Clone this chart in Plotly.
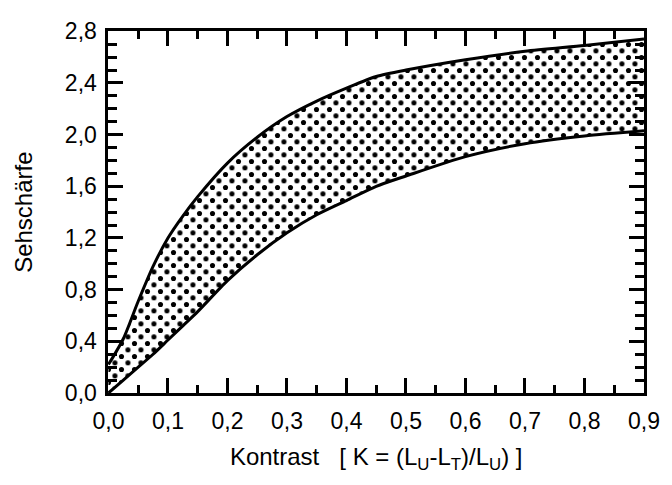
import plotly.graph_objects as go

kontrast = [0, 0.025, 0.05, 0.075, 0.1, 0.125, 0.15, 0.2, 0.25, 0.3, 0.35, 0.4, 0.45, 0.5, 0.6, 0.7, 0.8, 0.9]
upper = [0.22, 0.42, 0.71, 0.98, 1.20, 1.37, 1.52, 1.78, 1.98, 2.14, 2.26, 2.36, 2.45, 2.50, 2.58, 2.645, 2.69, 2.74]
lower = [0.0, 0.10, 0.20, 0.30, 0.41, 0.52, 0.63, 0.87, 1.07, 1.24, 1.38, 1.49, 1.60, 1.68, 1.83, 1.93, 1.99, 2.03]

x_ticks = [0, 0.1, 0.2, 0.3, 0.4, 0.5, 0.6, 0.7, 0.8, 0.9]
y_ticks = [0, 0.4, 0.8, 1.2, 1.6, 2.0, 2.4, 2.8]
x_range = [0, 0.9]
y_range = [0, 2.8]

# figure geometry
W, H = 672, 485
ML, MR, MT, MB = 102, 24, 14, 92
PAT = 13.0          # dot-pattern cell
SHIFT = PAT / 2     # half-cell offset -> staggered (diamond) dot lattice

gw = W - ML - MR
gh = H - MT - MB
dx = SHIFT / gw
dy = SHIFT / gh
vis_w = gw - SHIFT
vis_h = gh - SHIFT
x2_range = [x_range[0] - SHIFT * (x_range[1] - x_range[0]) / vis_w, x_range[1]]
y2_range = [y_range[0], y_range[1] + SHIFT * (y_range[1] - y_range[0]) / vis_h]

line = dict(color="black", width=3, shape="spline", smoothing=0.7)

def pattern():
    return dict(shape=".", fgcolor="black", fgopacity=1, bgcolor="rgba(0,0,0,0)",
                size=PAT, solidity=0.12)

fig = go.Figure()
# dot layer 1 (primary axes)
fig.add_trace(go.Scatter(x=kontrast, y=lower, mode="lines",
                         line=dict(width=0, shape="spline", smoothing=0.7),
                         showlegend=False, hoverinfo="skip"))
fig.add_trace(go.Scatter(x=kontrast, y=upper, mode="lines", fill="tonexty",
                         fillcolor="rgba(0,0,0,0)", fillpattern=pattern(),
                         line=dict(width=0, shape="spline", smoothing=0.7),
                         showlegend=False, hoverinfo="skip"))
# dot layer 2 (half-cell offset subplot) + outlines
fig.add_trace(go.Scatter(x=kontrast, y=lower, mode="lines", line=line,
                         xaxis="x2", yaxis="y2", showlegend=False))
fig.add_trace(go.Scatter(x=kontrast, y=upper, mode="lines", fill="tonexty",
                         fillcolor="rgba(0,0,0,0)", fillpattern=pattern(),
                         line=line, xaxis="x2", yaxis="y2", showlegend=False))

font = dict(family="Liberation Sans, Arial, sans-serif", size=23, color="black")
title_font = dict(family="Liberation Sans, Arial, sans-serif", size=24, color="black")

fig.update_layout(
    width=W, height=H,
    margin=dict(l=ML, r=MR, t=MT, b=MB),
    paper_bgcolor="white", plot_bgcolor="rgba(0,0,0,0)",
    separators=", ",
    font=font,
    xaxis=dict(domain=[dx, 1], range=x_range, tickvals=x_ticks, tickformat=".1f",
               anchor="y",
               ticks="inside", ticklen=15, tickwidth=2.5, tickcolor="black",
               minor=dict(ticks="inside", ticklen=8, tickwidth=2.5, tickcolor="black", dtick=0.05),
               showline=True, linewidth=3, linecolor="black", mirror="allticks",
               showgrid=False, zeroline=False, ticklabelstandoff=5,
               title=dict(text="Kontrast   [ K = (L<sub>U</sub>-L<sub>T</sub>)/L<sub>U</sub>) ]",
                          font=title_font, standoff=16),
               tickfont=font),
    yaxis=dict(domain=[0, 1 - dy], range=y_range, tickvals=y_ticks, tickformat=".1f",
               anchor="x",
               ticks="inside", ticklen=15, tickwidth=2.5, tickcolor="black",
               minor=dict(ticks="inside", ticklen=9, tickwidth=2.5, tickcolor="black", dtick=0.1),
               showline=True, linewidth=3, linecolor="black", mirror="allticks",
               showgrid=False, zeroline=False, ticklabelstandoff=4,
               title=dict(text="Sehschärfe", font=title_font, standoff=26),
               tickfont=font),
    xaxis2=dict(domain=[0, 1], range=x2_range, anchor="y2",
                visible=False, showgrid=False, zeroline=False),
    yaxis2=dict(domain=[0, 1], range=y2_range, anchor="x2",
                visible=False, showgrid=False, zeroline=False),
)

fig.write_html("out.html")
